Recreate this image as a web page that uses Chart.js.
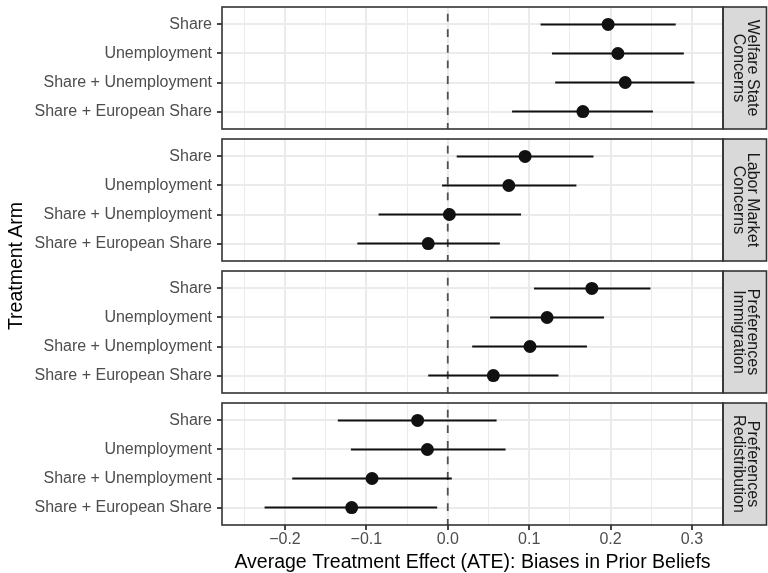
<!DOCTYPE html>
<html>
<head>
<meta charset="utf-8">
<script src="https://cdn.jsdelivr.net/npm/chart.js@4.4.1/dist/chart.umd.min.js"></script>
<style>
  html, body { margin: 0; padding: 0; background: #ffffff; }
  #wrap { position: relative; width: 768px; height: 573px; overflow: hidden; background: #fff; }
  canvas { position: absolute; left: 0; }
  #ytitle {
    position: absolute; left: 15px; top: 266px; width: 300px; height: 24px;
    margin-left: -150px; margin-top: -12px; text-align: center;
    transform: rotate(-90deg); font-family: 'Liberation Sans', Arial, sans-serif;
    font-size: 19.5px; line-height: 24px; color: #000;
  }
</style>
</head>
<body>
<div id="wrap">
  <canvas id="c0"></canvas>
  <canvas id="c1"></canvas>
  <canvas id="c2"></canvas>
  <canvas id="c3"></canvas>
  <div id="ytitle">Treatment Arm</div>
</div>
<script>
// ---------------- DATA ----------------
const arms = ["Share", "Unemployment", "Share + Unemployment", "Share + European Share"];
const panelLabels = [
  ["Welfare State", "Concerns"],
  ["Labor Market", "Concerns"],
  ["Preferences", "Immigration"],
  ["Preferences", "Redistribution"]
];
// Welfare State Concerns
const welfareATE  = [0.197, 0.209, 0.218, 0.166];
const welfareLow  = [0.114, 0.128, 0.132, 0.079];
const welfareHigh = [0.280, 0.290, 0.303, 0.252];
// Labor Market Concerns
const laborATE  = [0.095, 0.075, 0.002, -0.024];
const laborLow  = [0.011, -0.007, -0.085, -0.111];
const laborHigh = [0.179, 0.158, 0.090, 0.064];
// Preferences Immigration
const immigATE  = [0.177, 0.122, 0.101, 0.056];
const immigLow  = [0.106, 0.052, 0.030, -0.024];
const immigHigh = [0.249, 0.192, 0.171, 0.136];
// Preferences Redistribution
const redistATE  = [-0.037, -0.025, -0.093, -0.118];
const redistLow  = [-0.135, -0.119, -0.191, -0.225];
const redistHigh = [0.060, 0.071, 0.005, -0.013];

const xMajorTicks = [-0.2, -0.1, 0.0, 0.1, 0.2, 0.3];
const xTickLabels = ["\u22120.2", "\u22120.1", "0.0", "0.1", "0.2", "0.3"];
const xMinorTicks = [-0.25, -0.15, -0.05, 0.05, 0.15, 0.25];
const xTitle = "Average Treatment Effect (ATE): Biases in Prior Beliefs";

// ---------------- LAYOUT ----------------
const X_MIN = -0.2773, X_MAX = 0.3381;
const Y_MIN = 0.4, Y_MAX = 4.6;
const PANEL_H = 122, PANEL_STEP = 132, FIRST_TOP = 7;
const AXIS_W = 222, STRIP_PAD = 45, STRIP_W = 43.5;
const FONT = "'Liberation Sans', Arial, sans-serif";

Chart.defaults.font.family = FONT;

const panelData = [
  [welfareATE, welfareLow, welfareHigh],
  [laborATE, laborLow, laborHigh],
  [immigATE, immigLow, immigHigh],
  [redistATE, redistLow, redistHigh]
];

const allXTicks = xMajorTicks.concat(xMinorTicks).sort((a, b) => a - b);
function isMajor(v) { return xMajorTicks.some(m => Math.abs(m - v) < 1e-9); }
function majorLabel(v) {
  const i = xMajorTicks.findIndex(m => Math.abs(m - v) < 1e-9);
  return i >= 0 ? xTickLabels[i] : '';
}

const decorPlugin = {
  id: 'decor',
  afterDraw(chart, args, opts) {
    const ctx = chart.ctx;
    const a = chart.chartArea;
    ctx.save();
    ctx.fillStyle = '#D9D9D9';
    ctx.fillRect(a.right, a.top, STRIP_W, a.bottom - a.top);
    ctx.strokeStyle = '#333333';
    ctx.lineWidth = 1.6;
    ctx.strokeRect(a.right, a.top, STRIP_W, a.bottom - a.top);
    const lines = opts.lines;
    const cx = a.right + STRIP_W / 2 + 0.5;
    const cy = (a.top + a.bottom) / 2;
    ctx.translate(cx, cy);
    ctx.rotate(Math.PI / 2);
    ctx.fillStyle = '#1A1A1A';
    ctx.font = "16px " + FONT;
    ctx.textAlign = 'center';
    ctx.textBaseline = 'middle';
    const lh = 13.5;
    lines.forEach((t, i) => {
      ctx.fillText(t, 0, (i - (lines.length - 1) / 2) * lh);
    });
    ctx.restore();
    ctx.save();
    ctx.strokeStyle = '#333333';
    ctx.lineWidth = 1.6;
    ctx.strokeRect(a.left, a.top, a.right - a.left, a.bottom - a.top);
    ctx.restore();
  }
};

function makePanel(idx) {
  const isBottom = idx === 3;
  const canvas = document.getElementById('c' + idx);
  const top = FIRST_TOP + idx * PANEL_STEP;
  const cTop = top - 7;
  const cH = isBottom ? (573 - cTop) : (PANEL_H + 14);
  canvas.width = 768; canvas.height = cH;
  canvas.style.top = cTop + 'px';
  canvas.style.width = '768px'; canvas.style.height = cH + 'px';

  const [ate, lo, hi] = panelData[idx];
  const datasets = [];
  datasets.push({
    label: 'estimate',
    data: arms.map((a, i) => ({ x: ate[i], y: i + 1 })),
    showLine: false,
    pointRadius: 6.5,
    pointBackgroundColor: '#111111',
    pointBorderWidth: 0,
    order: 0
  });
  arms.forEach((a, i) => {
    datasets.push({
      label: 'ci ' + a,
      data: [{ x: lo[i], y: i + 1 }, { x: hi[i], y: i + 1 }],
      showLine: true,
      pointRadius: 0,
      borderColor: '#111111',
      borderWidth: 2,
      borderCapStyle: 'butt',
      order: 1
    });
  });
  datasets.push({
    label: 'zero',
    data: [{ x: 0, y: Y_MIN }, { x: 0, y: Y_MAX }],
    showLine: true,
    pointRadius: 0,
    borderColor: '#505050',
    borderWidth: 1.8,
    borderDash: [7.8, 7.8],
    borderDashOffset: 8.9,
    borderCapStyle: 'butt',
    order: 2
  });

  const xScale = {
    type: 'linear',
    min: X_MIN, max: X_MAX,
    afterBuildTicks: (s) => { s.ticks = allXTicks.map(v => ({ value: v })); },
    grid: {
      color: (c) => '#EBEBEB',
      lineWidth: (c) => (c.tick && isMajor(c.tick.value)) ? 2 : 1,
      drawTicks: isBottom,
      tickLength: 5,
      tickWidth: 1.8,
      tickColor: (c) => (c.tick && isMajor(c.tick.value)) ? '#333333' : 'rgba(0,0,0,0)'
    },
    border: { display: false },
    ticks: {
      display: isBottom,
      autoSkip: false,
      maxRotation: 0,
      padding: 0,
      color: '#4D4D4D',
      font: { size: 16, family: FONT },
      callback: (v) => majorLabel(v)
    },
    title: {
      display: isBottom,
      text: xTitle,
      color: '#000000',
      font: { size: 19.5, family: FONT },
      padding: { top: 0, bottom: -1 }
    },
    afterFit: (s) => {
      s.height = isBottom ? (573 - (top + PANEL_H)) : 0;
      s.paddingLeft = 0; s.paddingRight = 0; s.paddingTop = 0; s.paddingBottom = 0;
    }
  };

  const yScale = {
    type: 'linear',
    reverse: true,
    min: Y_MIN, max: Y_MAX,
    afterBuildTicks: (s) => { s.ticks = arms.map((a, i) => ({ value: i + 1 })); },
    grid: {
      color: '#EBEBEB',
      lineWidth: 2,
      drawTicks: true,
      tickLength: 5,
      tickWidth: 1.8,
      tickColor: '#333333'
    },
    border: { display: false },
    ticks: {
      autoSkip: false,
      padding: 5,
      color: '#4D4D4D',
      font: { size: 16, family: FONT },
      callback: (v) => arms[Math.round(v) - 1] || ''
    },
    afterFit: (s) => {
      s.width = AXIS_W;
      s.paddingLeft = 0; s.paddingRight = 0; s.paddingTop = 0; s.paddingBottom = 0;
    }
  };

  return new Chart(canvas, {
    type: 'scatter',
    data: { datasets },
    options: {
      responsive: false,
      animation: false,
      devicePixelRatio: 1,
      events: [],
      layout: { padding: { left: 0, right: STRIP_PAD, top: 7, bottom: isBottom ? 0 : 7 } },
      plugins: {
        legend: { display: false },
        tooltip: { enabled: false },
        decor: { lines: panelLabels[idx] }
      },
      scales: { x: xScale, y: yScale }
    },
    plugins: [decorPlugin]
  });
}

for (let i = 0; i < 4; i++) makePanel(i);
</script>
</body>
</html>
